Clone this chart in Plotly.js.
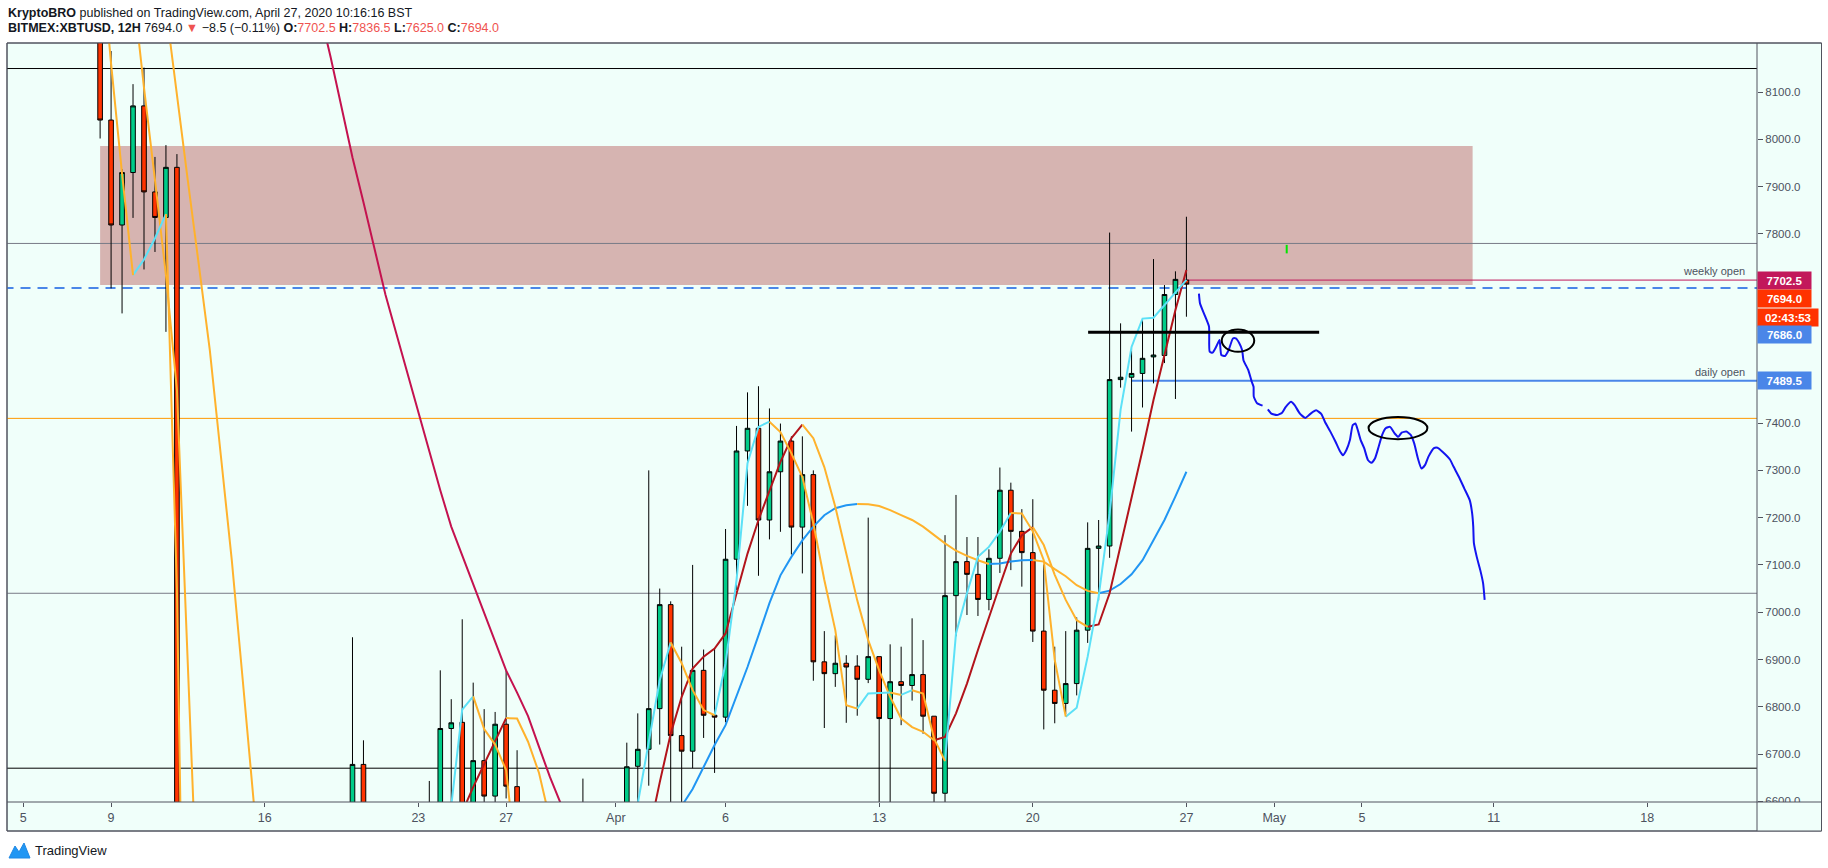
<!DOCTYPE html>
<html><head><meta charset="utf-8">
<script src="https://cdn.plot.ly/plotly-3.0.1.min.js"></script>
<style>html,body{margin:0;padding:0;background:#fff;}#chart{width:1828px;height:868px;}</style>
</head><body><div id="chart"></div>
<script>
// ---------------- DATA ----------------
// 12H candles, first candle 2020-03-08 12:00, one every 12 hours
const candleStartUTC = Date.UTC(2020, 2, 8, 12);
const openP  = [8480,8041,7819,7930,8071,7889,7835,7941,6300,4850, 5200,5600,5450,5170,5350,5360,4900,5020,5200,5350, 5250,5380,5900,6200,6678,6180,6300,6160,6200,5830, 6150,6490,6754,6767,6520,6686,6611,6763,6631,6300, 6170,6250,6150,5880,6350,6400,6450,6420,6300,6674, 6710,6796,7016,6739,6706,6877,6782,6778,7112,7341, 7389,7195,7297,7362,7180,7291,6895,6870,6892,6886, 6858,6906,6775,6853,6845,6868,6780,6617,7035,7107, 7080,7027,7114,7258,7171,7126,6960,6835,6807,6849, 6962,7135,7140,7492,7497,7505,7540,7543,7672,7702.5];
const highP  = [8560,8187,7937,8117,8152,7963,7988,7969,6450,5300, 5950,5650,5650,5550,5950,5380,5100,5350,5550,5400, 5420,6000,6400,6947,6729,6450,6450,6390,6350,6250, 6643,6877,6816,6985,6851,6795,6789,6877,6708,6330, 6300,6270,6200,6400,6648,6520,6500,6480,6724,6786, 7300,7050,7023,6927,7100,6921,6923,7176,7394,7465, 7478,7431,7399,7372,7372,7300,6960,6951,6909,6909, 7200,6906,6932,6927,6987,6941,6780,7163,7248,7159, 7159,7133,7306,7274,7218,7239,7101,6927,6960,6989, 7190,7195,7803,7611,7558,7621,7747,7692,7721,7836.5];
const lowP   = [8002,7685,7632,7834,7725,7762,7593,6150,4400,3800, 4900,5100,5050,5100,5250,4450,4650,4950,5080,5100, 5200,5300,5800,6100,5700,5850,5950,6000,5750,5700, 6120,6420,6500,6450,6480,6520,6560,6606,6250,6050, 6080,6100,5860,5850,6300,6350,6380,6150,6280,6560, 6633,6720,6590,6590,6670,6734,6660,6767,7047,7225, 7077,7154,7170,7122,7082,6855,6755,6842,6766,6781, 6850,6560,6580,6761,6813,6743,6590,6480,6949,6994, 6992,7004,7083,7089,7054,6937,6752,6765,6784,6824, 6935,7025,7115,7475,7382,7433,7484,7527,7451,7625];
const closeP = [8041,7819,7930,8071,7889,7835,7941,6300,4850,5200, 5600,5450,5170,5350,5360,4900,5020,5200,5350,5250, 5380,5900,6200,6678,6180,6300,6160,6200,5830,6150, 6490,6754,6766,6520,6686,6611,6763,6632,6300,6170, 6250,6150,5880,6350,6400,6450,6420,6300,6673,6710, 6796,7016,6739,6706,6877,6782,6778,7112,7341,7389, 7195,7297,7362,7180,7291,6895,6870,6892,6884,6858, 6906,6775,6853,6845,6868,6780,6617,7035,7107,7080, 7027,7114,7258,7171,7126,6960,6835,6807,6849,6962, 7135,7140,7492,7497,7505,7537,7544,7672,7704,7694];

// moving averages (one value per candle, null = not drawn)
const fastMA = [8420,8160,7927,7713,7746,7791,7842,7047,5600,5000, 5100,5300,5250,5300,5330,5100,5060,5130,5240,5250, 5320,5600,5900,6290,6230,6260,6210,6200,6010,6080, 6290,6520,6590,6794,6822,6753,6720,6666,6455,6320, 6280,6215,6050,6200,6300,6375,6400,6350,6480,6595, 6729,6856,6936,6892,6835,6793,6782,6892,7068,7315, 7392,7403,7381,7336,7286,7188,7068,6962,6803,6796, 6828,6829,6830,6825,6835,6828,6733,6685,6955,7040, 7117,7138,7170,7210,7209,7171,7110,6899,6779,6798, 6906,7033,7209,7428,7561,7621,7623,7650,7677,7703];
const midMA  = [null,null,null,8320,8109,7914,7713,7470,6900,6300, 6100,5900,5800,5680,5600,5550,5420,5330,5300,5300, 5290,5310,5400,5550,5750,5850,5950,6000,6050,6020, 6150,6300,6450,6577,6630,6679,6727,6776,6775,6726, 6660,6560,6450,6420,6420,6430,6430,6400,6440,6490, 6530,6640,6743,6821,6881,6906,6923,6955,7040,7124, 7195,7258,7318,7368,7397,7368,7307,7223,7124,7025, 6941,6877,6821,6775,6757,6747,6729,6736,6786,6849, 6920,6990,7057,7124,7163,7180,7142,7079,7026,6983, 6969,6974,7040,7140,7237,7343,7449,7542,7639,7724];
const slowMA = [null,null,null,null,null,8460,8274,8090,7912,7734, 7554,7332,7110,6856,6598,6400,6250,6120,6010,5920, 5850,5800,5790,5810,5830,5860,5880,5900,5910,5930, 5960,6000,6040,6080,6120,6160,6200,6230,6240,6250, 6260,6270,6270,6290,6310,6330,6350,6370,6400,6430, 6470,6520,6560,6590,6626,6673,6719,6761,6821,6884, 6951,7019,7078,7117,7152,7181,7205,7220,7226,7229, 7228.5,7224.5,7216,7205.5,7195,7181,7163,7145.5,7130,7119, 7110,7102,7103,7107,7110,7110.5,7107,7091,7076,7057, 7045,7040,7045.5,7059.5,7080,7110,7152,7195,7245,7297];
const longMA = [null,null,null,null,null,null,null,null,null,null, null,null,null,null,null,null,null,null,null,8420, 8273,8175,8069,7962,7867,7770,7672,7589,7505,7422, 7338,7258,7181,7120,7059,6998,6939,6877,6830,6780, 6715,6651,6594,6537,6500,6470,null,null,null,null];

// horizontal levels
const levelPrices = [8150, 7780, 7410, 7040, 6670];
const dashedLevel = 7686;
const weeklyOpen = 7702.5, weeklyOpenFrom = '2020-04-27 00:00';
const dailyOpen = 7489.5, dailyOpenFrom = '2020-04-24 12:00';
const zone = {x0:'2020-03-08 12:00', x1:'2020-05-10 01:00', y0:7692, y1:7986};
const keyLine = {x0:'2020-04-22 12:30', x1:'2020-05-03 01:10', y:7592};
const greenMark = {x:'2020-05-01 13:40', y0:7759, y1:7777};
const circles = [
  {x0:'2020-04-28 14:38', x1:'2020-04-30 02:10', y0:7551, y1:7598},
  {x0:'2020-05-05 07:12', x1:'2020-05-07 23:31', y0:7366, y1:7413}
];
// hand drawn projection path
const drawX = ['2020-04-27 13:41','2020-04-27 14:53','2020-04-27 20:38','2020-04-28 00:43','2020-04-28 01:26','2020-04-28 04:34','2020-04-28 08:24','2020-04-28 12:14','2020-04-28 14:10','2020-04-28 18:14','2020-04-28 22:05','2020-04-29 02:53','2020-04-29 06:00','2020-04-29 09:50','2020-04-29 12:58','2020-04-29 14:24','2020-04-29 19:41','2020-04-29 23:31','2020-04-30 01:26','2020-04-30 01:40','2020-04-30 05:17','2020-04-30 11:17',null,'2020-04-30 17:02','2020-04-30 20:53','2020-05-01 02:53','2020-05-01 08:38','2020-05-01 12:29','2020-05-01 18:29','2020-05-01 22:19','2020-05-02 04:05','2020-05-02 10:05','2020-05-02 15:50','2020-05-02 21:50','2020-05-03 03:36','2020-05-03 07:26','2020-05-03 13:26','2020-05-03 19:12','2020-05-03 23:17','2020-05-04 03:07','2020-05-04 06:58','2020-05-04 10:48','2020-05-04 13:55','2020-05-04 16:48','2020-05-04 19:26','2020-05-04 22:34','2020-05-05 02:24','2020-05-05 06:29','2020-05-05 10:19','2020-05-05 14:10','2020-05-05 18:14','2020-05-05 22:05','2020-05-06 01:55','2020-05-06 06:43','2020-05-06 11:46','2020-05-06 15:36','2020-05-06 19:26','2020-05-07 00:29','2020-05-07 05:17','2020-05-07 09:07','2020-05-07 13:12','2020-05-07 17:02','2020-05-07 20:53','2020-05-08 00:43','2020-05-08 06:43','2020-05-08 10:34','2020-05-08 16:19','2020-05-09 00:14','2020-05-09 04:05','2020-05-09 10:05','2020-05-09 15:50','2020-05-09 21:50','2020-05-10 00:29','2020-05-10 01:41','2020-05-10 02:24','2020-05-10 05:31','2020-05-10 09:22','2020-05-10 12:29','2020-05-10 14:10'];
const drawY = [7674,7653,7625,7604,7551,7549,7561,7576,7544,7542,7554,7579,7579,7569,7554,7533,7512,7487,7477,7456,7442,7437,null,7429,7420,7417,7422,7434,7445,7438,7420,7411,7420,7427,7419,7403,7382,7360,7343,7332,7343,7364,7396,7399,7385,7364,7347,7322,7316,7325,7350,7375,7389,7392,7378,7371,7380,7382,7375,7357,7325,7304,7311,7329,7347,7348,7339,7323,7308,7286,7262,7237,7209,7181,7146,7117,7089,7061,7026];

// axes (7500/7600/7700 labels are hidden behind the price tags in the original)
const xTickVals = ['2020-03-05','2020-03-09','2020-03-16','2020-03-23','2020-03-27','2020-04-01','2020-04-06','2020-04-13','2020-04-20','2020-04-27','2020-05-01','2020-05-05','2020-05-11','2020-05-18'];
const xTickText = ['5','9','16','23','27','Apr','6','13','20','27','May','5','11','18'];
const yTickVals = [6600,6700,6800,6900,7000,7100,7200,7300,7400,7800,7900,8000,8100];
const xRange = ['2020-03-04 06:10','2020-05-23 00:00'];
const yRange = [6598.5, 8204];

// price-scale labels
const priceTags = [
  {text:'7702.5', y:7702.5, shift:0},
  {text:'7694.0', y:7694.0, shift:-14},
  {text:'02:43:53', y:7694.0, shift:-33},
  {text:'7686.0', y:7686.0, shift:-47},
  {text:'7489.5', y:7489.5, shift:0}
];
const tagStyle = [
  {bg:'#c2185b', w:49}, {bg:'#ff3300', w:49}, {bg:'#ff3300', w:56}, {bg:'#4a86e8', w:49}, {bg:'#4a86e8', w:49}
];

// ---------------- BUILD ----------------
function fmt(ms){const d=new Date(ms);const p=n=>String(n).padStart(2,'0');
  return d.getUTCFullYear()+'-'+p(d.getUTCMonth()+1)+'-'+p(d.getUTCDate())+' '+p(d.getUTCHours())+':'+p(d.getUTCMinutes());}
const times = openP.map((_,i)=>fmt(candleStartUTC + i*12*3600e3));

const L=7, R=1757, T=43, B=802;
const px2x = p => (p-L)/(R-L);
const px2y = p => (B-p)/(B-T);

const ORANGE = '#ffb22c';
function slopeTraces(xs, ys, upColor, downColor){
  const runs = {up:{x:[],y:[]}, down:{x:[],y:[]}};
  let last = null;
  for(let i=1;i<ys.length;i++){
    if(ys[i]==null||ys[i-1]==null){last=null;continue;}
    const dir = ys[i]>ys[i-1]?'up':'down';
    const r = runs[dir];
    if(dir!==last){ if(r.x.length){r.x.push(null);r.y.push(null);} r.x.push(xs[i-1]); r.y.push(ys[i-1]); }
    r.x.push(xs[i]); r.y.push(ys[i]); last=dir;
  }
  const mk=(r,c)=>({type:'scatter',mode:'lines',x:r.x,y:r.y,line:{color:c,width:2},hoverinfo:'skip',connectgaps:false});
  return [mk(runs.up,upColor), mk(runs.down,downColor)];
}

const traces = [];
traces.push({type:'candlestick', x:times, open:openP, high:highP, low:lowP, close:closeP,
  increasing:{line:{color:'#000000',width:1}, fillcolor:'#00cc88'},
  decreasing:{line:{color:'#000000',width:1}, fillcolor:'#ff3300'},
  whiskerwidth:0, hoverinfo:'skip'});
traces.push(...slopeTraces(times, slowMA, '#2196f3', ORANGE));
traces.push({type:'scatter',mode:'lines',x:times,y:longMA,line:{color:'#c4124f',width:2},hoverinfo:'skip'});
traces.push(...slopeTraces(times, midMA, '#b2141b', ORANGE));
traces.push(...slopeTraces(times, fastMA, '#5ce1f7', ORANGE));
traces.push({type:'scatter',mode:'lines',x:drawX,y:drawY,line:{color:'#1414f0',width:2,shape:'spline',smoothing:0.5},hoverinfo:'skip',connectgaps:false});

const FRAME='#50535e', BG='#f0fffa';
const shapes = [];
shapes.push({type:'rect',xref:'paper',yref:'paper',x0:px2x(7),x1:px2x(1821.5),y0:px2y(831),y1:px2y(43),fillcolor:BG,line:{color:FRAME,width:1},layer:'below'});
shapes.push({type:'rect',xref:'x',yref:'y',x0:zone.x0,x1:zone.x1,y0:zone.y0,y1:zone.y1,fillcolor:'#d6b4b1',line:{width:0},layer:'below'});
const levelColors = ['#000000','#787b86','#ff9800','#787b86','#000000'];
levelPrices.forEach((p,i)=>shapes.push({type:'line',xref:'x',yref:'y',x0:'2020-03-01',x1:'2020-06-01',y0:p,y1:p,line:{color:levelColors[i],width:1},layer:'below'}));
shapes.push({type:'line',xref:'x',yref:'y',x0:'2020-03-01',x1:'2020-06-01',y0:dashedLevel,y1:dashedLevel,line:{color:'#4a86e8',width:2,dash:'10px,7px'},layer:'below'});
shapes.push({type:'line',xref:'x',yref:'y',x0:weeklyOpenFrom,x1:'2020-06-01',y0:weeklyOpen,y1:weeklyOpen,line:{color:'#c2185b',width:1},layer:'below'});
shapes.push({type:'line',xref:'x',yref:'y',x0:dailyOpenFrom,x1:'2020-06-01',y0:dailyOpen,y1:dailyOpen,line:{color:'#4a86e8',width:2},layer:'below'});
shapes.push({type:'line',xref:'x',yref:'y',x0:keyLine.x0,x1:keyLine.x1,y0:keyLine.y,y1:keyLine.y,line:{color:'#000000',width:3},layer:'above'});
shapes.push({type:'line',xref:'x',yref:'y',x0:greenMark.x,x1:greenMark.x,y0:greenMark.y0,y1:greenMark.y1,line:{color:'#00e600',width:2},layer:'above'});
circles.forEach(c=>shapes.push({type:'circle',xref:'x',yref:'y',x0:c.x0,x1:c.x1,y0:c.y0,y1:c.y1,line:{color:'#000000',width:2},layer:'above'}));
shapes.push({type:'rect',xref:'paper',yref:'paper',x0:px2x(1757),x1:px2x(1821.5),y0:px2y(831),y1:px2y(802),fillcolor:BG,line:{width:0},layer:'above'});
shapes.push({type:'line',xref:'paper',yref:'paper',x0:px2x(1757),x1:px2x(1757),y0:px2y(831),y1:px2y(43),line:{color:FRAME,width:1},layer:'above'});
shapes.push({type:'line',xref:'paper',yref:'paper',x0:px2x(7),x1:px2x(1821.5),y0:px2y(802),y1:px2y(802),line:{color:FRAME,width:1},layer:'above'});
shapes.push({type:'rect',xref:'paper',yref:'paper',x0:px2x(7),x1:px2x(1821.5),y0:px2y(831),y1:px2y(43),fillcolor:'rgba(0,0,0,0)',line:{color:FRAME,width:1},layer:'above'});
shapes.push({type:'path',xref:'paper',yref:'paper',
  path:`M ${px2x(9)} ${px2y(858)} L ${px2x(15)} ${px2y(846)} L ${px2x(19)} ${px2y(852)} L ${px2x(24)} ${px2y(843)} L ${px2x(30)} ${px2y(858)} Z`,
  fillcolor:'#2196f3',line:{color:'#1e88e5',width:1},layer:'above'});

const RED='#ef5350';
const annotations = [
  {xref:'paper',yref:'paper',x:px2x(6),y:px2y(13),xanchor:'left',yanchor:'middle',showarrow:false,
   text:'<b>KryptoBRO</b> published on TradingView.com, April 27, 2020 10:16:16 BST',
   font:{family:'Liberation Sans, Arial, sans-serif',size:12.5,color:'#131722'}},
  {xref:'paper',yref:'paper',x:px2x(6),y:px2y(28),xanchor:'left',yanchor:'middle',showarrow:false,
   text:`<b>BITMEX:XBTUSD, 12H</b> 7694.0 <span style="color:${RED}">▼</span> −8.5 (−0.11%) <b>O:</b><span style="color:${RED}">7702.5</span> <b>H:</b><span style="color:${RED}">7836.5</span> <b>L:</b><span style="color:${RED}">7625.0</span> <b>C:</b><span style="color:${RED}">7694.0</span>`,
   font:{family:'Liberation Sans, Arial, sans-serif',size:12.5,color:'#131722'}},
  {xref:'paper',yref:'y',x:px2x(1747),y:weeklyOpen,xanchor:'right',yanchor:'bottom',yshift:1,showarrow:false,
   text:'weekly open',font:{family:'Liberation Sans, Arial, sans-serif',size:11,color:'#4c525e'}},
  {xref:'paper',yref:'y',x:px2x(1747),y:dailyOpen,xanchor:'right',yanchor:'bottom',yshift:1,showarrow:false,
   text:'daily open',font:{family:'Liberation Sans, Arial, sans-serif',size:11,color:'#4c525e'}},
  {xref:'paper',yref:'paper',x:px2x(33),y:px2y(850),xanchor:'left',yanchor:'middle',showarrow:false,
   text:'TradingView',font:{family:'Liberation Sans Narrow, Liberation Sans, sans-serif',size:13,color:'#131722'}}
];
priceTags.forEach((t,i)=>annotations.push({xref:'paper',yref:'y',x:1,y:t.y,yshift:t.shift,xanchor:'left',yanchor:'middle',showarrow:false,
  text:'<b>'+t.text+'</b>',bgcolor:tagStyle[i].bg,width:tagStyle[i].w,height:13,borderpad:2,
  font:{family:'Liberation Sans, Arial, sans-serif',size:11.5,color:'#ffffff'}}));

const layout = {
  width:1828, height:868,
  margin:{l:L, r:1828-R, t:T, b:868-B, pad:0},
  paper_bgcolor:'#ffffff', plot_bgcolor:'rgba(0,0,0,0)',
  showlegend:false, boxgap:0.4,
  xaxis:{type:'date', range:xRange, rangeslider:{visible:false}, showgrid:false, zeroline:false, showline:false,
    tickmode:'array', tickvals:xTickVals, ticktext:xTickText, ticks:'outside', ticklen:4, tickcolor:FRAME,
    tickfont:{family:'Liberation Sans Narrow, Liberation Sans, sans-serif', size:12.5, color:'#4c525e'}, fixedrange:true},
  yaxis:{side:'right', range:yRange, showgrid:false, zeroline:false, showline:false,
    tickmode:'array', tickvals:yTickVals, ticktext:yTickVals.map(v=>v.toFixed(1)), ticks:'outside', ticklen:5, tickcolor:FRAME,
    tickfont:{family:'Liberation Sans, Arial, sans-serif', size:11.5, color:'#4c525e'}, fixedrange:true},
  shapes, annotations
};
Plotly.newPlot('chart', traces, layout, {staticPlot:true, displayModeBar:false});
</script></body></html>
